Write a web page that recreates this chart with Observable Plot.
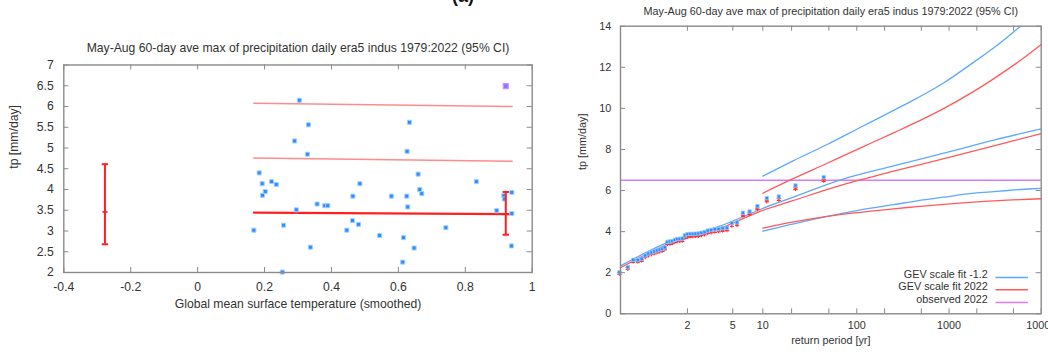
<!DOCTYPE html>
<html><head><meta charset="utf-8">
<script src="https://cdn.jsdelivr.net/npm/d3@7"></script>
<script src="https://cdn.jsdelivr.net/npm/@observablehq/plot@0.6"></script>
<style>
body{margin:0;background:#fff;}
#wrap{position:relative;width:1048px;height:354px;overflow:hidden;font-family:"Liberation Sans",Arial,sans-serif;color:#333;}
#wrap svg{position:absolute;top:0;}
.hd{position:absolute;white-space:nowrap;font-weight:bold;font-size:18px;line-height:18px;color:#111;}
</style></head><body><div id="wrap"><div class="hd" style="left:452px;top:-13px">(a)</div></div>
<script>
const FONT = '"Liberation Sans", Arial, sans-serif';
const GRAY = "#8a8a8a", TXT = "#333";

// ---------- Left panel: observations vs smoothed GMST ----------
const titleText = "May-Aug 60-day ave max of precipitation daily era5 indus 1979:2022 (95% CI)";
const gmst = [0.304,0.331,0.633,0.290,0.626,0.328,0.184,0.659,0.221,0.193,0.235,0.485,0.833,0.202,0.194,0.664,0.670,0.464,0.579,0.625,0.939,0.915,0.917,0.357,0.380,0.389,0.628,0.295,0.894,0.939,0.463,0.481,0.257,0.168,0.446,0.742,0.544,0.615,0.337,0.647,0.938,0.613,0.253];
const tpObs = [6.15,5.56,5.62,5.17,4.92,4.85,4.40,4.37,4.19,4.14,4.12,4.14,4.19,3.95,3.86,4.00,3.90,3.84,3.84,3.84,3.93,3.85,3.77,3.65,3.61,3.61,3.58,3.51,3.49,3.42,3.25,3.16,3.14,3.02,3.02,3.08,2.89,2.84,2.61,2.59,2.64,2.25,2.01];
const gmst2022 = [0.921], tp2022 = [6.49];
const fitX = [0.168, 0.94];
const fitMean = [3.445, 3.405];
const fitRet1 = [4.76, 4.68];
const fitRet2 = [6.08, 6.00];
const ciX = [-0.277, 0.921];
const ciLow = [2.68, 2.91];
const ciMid = [3.46, 3.41];
const ciHigh = [4.61, 3.94];
const xTicksL = [-0.4,-0.2,0,0.2,0.4,0.6,0.8,1];
const yTicksL = [2,2.5,3,3.5,4,4.5,5,5.5,6,6.5,7];

// ---------- Right panel: return period plot ----------
const rpObs = [1.023,1.048,1.073,1.1,1.128,1.158,1.189,1.222,1.257,1.294,1.333,1.375,1.419,1.467,1.517,1.571,1.63,1.692,1.76,1.833,1.913,2.0,2.095,2.2,2.316,2.444,2.588,2.75,2.933,3.143,3.385,3.667,4.0,4.4,4.889,5.5,6.286,7.333,8.8,11,14.67,22,44];
const tpBlue = [2.02,2.27,2.63,2.62,2.68,2.84,2.93,2.99,3.04,3.09,3.13,3.17,3.24,3.50,3.52,3.54,3.60,3.64,3.65,3.66,3.82,3.88,3.89,3.89,3.90,3.91,3.94,3.98,4.05,4.08,4.12,4.13,4.17,4.19,4.42,4.45,4.92,4.98,5.24,5.63,5.71,6.25,6.65];
const tpRed  = [1.97,2.21,2.56,2.56,2.61,2.77,2.86,2.92,2.96,3.01,3.05,3.09,3.16,3.41,3.43,3.45,3.51,3.55,3.56,3.57,3.72,3.78,3.79,3.79,3.80,3.81,3.84,3.88,3.95,3.98,4.02,4.03,4.07,4.09,4.31,4.34,4.80,4.86,5.11,5.49,5.57,6.09,6.49];
const rpFit = [1.0255,1.5,3.66,9.5,21,67,250,880,3060,10000];
const fitBlue = [2.33,3.50,4.24,5.09,5.68,6.52,7.20,7.82,8.46,9.00];
const fitRed  = [2.24,3.40,4.13,5.00,5.52,6.25,6.94,7.55,8.18,8.77];
const rpCI = [10,21,48,110,250,450,880,1855,3060,5960,10000];
const hiBlue = [6.70,7.46,8.24,9.08,9.90,10.50,11.25,12.25,12.95,14.0,14.88];
const hiRed  = [5.87,6.59,7.33,8.08,8.81,9.34,10.00,10.83,11.45,12.34,13.11];
const loBlue = [4.02,4.38,4.74,5.06,5.31,5.50,5.68,5.87,5.95,6.05,6.11];
const loRed  = [4.17,4.47,4.74,4.94,5.11,5.22,5.33,5.44,5.50,5.56,5.60];
const observed2022 = 6.5;
const rpTicks = [2,5,10,20,50,100,200,500,1000,2000,5000,10000];
const rpLabels = [2,5,10,100,1000,10000];
const yTicksR = [0,2,4,6,8,10,12,14];
const legendNames = ["GEV scale fit -1.2","GEV scale fit 2022","observed 2022"];

const BLUE_L = "#5fa8ff", RED_L = "#ff5a5a", PURPLE = "#d77cf7";
const gumbel = T => -Math.log(-Math.log(1 - 1/T));
const invGumbel = v => 1/(1 - Math.exp(-Math.exp(-v)));

// horizontal bar symbol for error-bar caps and legend swatches
const hbar = {draw(ctx, size){ const w = Math.sqrt(size/Math.PI); ctx.moveTo(-w,0); ctx.lineTo(w,0); }};

const wrap = document.getElementById("wrap");

// ===== Left plot =====
{
  const W=560,H=354,ml=63.3,mr=28.3,mt=64.5,mb=82;
  const fw=W-ml-mr, fh=H-mt-mb;
  const pts = gmst.map((x,i)=>({x, y: tpObs[i]}));
  const line = arr => fitX.map((x,i)=>({x, y: arr[i]}));
  const ci = ciX.map((x,i)=>({x, lo: ciLow[i], mid: ciMid[i], hi: ciHigh[i]}));
  const fs = 12.2;
  const svg = Plot.plot({
    width:W, height:H, marginLeft:ml, marginRight:mr, marginTop:mt, marginBottom:mb,
    style:{fontFamily:FONT, fontSize:fs+"px", color:TXT, background:"transparent", overflow:"visible"},
    x:{domain:[-0.4,1]}, y:{domain:[2,7]},
    marks:[
      Plot.line(line(fitRet2), {x:"x", y:"y", stroke:"#ff8c8c", strokeWidth:1.6}),
      Plot.line(line(fitRet1), {x:"x", y:"y", stroke:"#ff8c8c", strokeWidth:1.6}),
      Plot.line(line(fitMean), {x:"x", y:"y", stroke:"#ff2020", strokeWidth:2.2}),
      Plot.dot(pts, {x:"x", y:"y", symbol:"square", r:2.3, fill:"#2a8cff", stroke:"#a8d0ff", strokeWidth:1}),
      Plot.dot(gmst2022.map((x,i)=>({x, y: tp2022[i]})), {x:"x", y:"y", symbol:"square", r:2.8, fill:"#7d7dff", stroke:"#d28cff", strokeWidth:1.2}),
      Plot.ruleX(ci, {x:"x", y1:"lo", y2:"hi", stroke:"#ff2020", strokeWidth:2}),
      Plot.dot(ci, {x:"x", y:"lo", symbol:hbar, r:3.2, fill:"none", stroke:"#ff2020", strokeWidth:2}),
      Plot.dot(ci, {x:"x", y:"hi", symbol:hbar, r:3.2, fill:"none", stroke:"#ff2020", strokeWidth:2}),
      Plot.dot(ci, {x:"x", y:"mid", symbol:hbar, r:2.6, fill:"none", stroke:"#ff2020", strokeWidth:1.6}),
      Plot.tickX(xTicksL, {x:d=>d, insetTop:fh-5, stroke:GRAY}),
      Plot.tickX(xTicksL, {x:d=>d, insetBottom:fh-5, stroke:GRAY}),
      Plot.tickY(yTicksL, {y:d=>d, insetRight:fw-5, stroke:GRAY}),
      Plot.tickY(yTicksL, {y:d=>d, insetLeft:fw-5, stroke:GRAY}),
      Plot.frame({stroke:GRAY, strokeWidth:1.4}),
      Plot.axisX({ticks:xTicksL, tickSize:0, tickPadding:9.5, tickFormat:d=>String(d), label:null, fontSize:fs}),
      Plot.axisY({ticks:yTicksL, tickSize:0, tickPadding:10, tickFormat:d=>String(d), label:null, fontSize:fs}),
      Plot.text([titleText], {frameAnchor:"top", dy:-22, text:d=>d, fontSize:fs, fill:TXT}),
      Plot.text(["Global mean surface temperature (smoothed)"], {frameAnchor:"bottom", dy:35, text:d=>d, fontSize:fs, fill:TXT}),
      Plot.text(["tp [mm/day]"], {frameAnchor:"left", dx:-49.5, rotate:-90, text:d=>d, fontSize:fs, fill:TXT})
    ]
  });
  svg.style.left = "0px";
  wrap.appendChild(svg);
}

// ===== Right plot =====
{
  const W=488,H=354,ml=60,mr=7.3,mt=25.7,mb=40.7;
  const fw=W-ml-mr, fh=H-mt-mb;
  const fs = 10.8;
  const curve = (T, v) => T.map((t,i)=>({x: gumbel(t), y: v[i]}));
  const obsB = rpObs.map((t,i)=>({x: gumbel(t), y: tpBlue[i]}));
  const obsR = rpObs.map((t,i)=>({x: gumbel(t), y: tpRed[i]}));
  const legDy = [-36.3, -24, -11.3];
  const legCol = [BLUE_L, RED_L, PURPLE];
  const smooth = "catmull-rom";
  const svg = Plot.plot({
    width:W, height:H, marginLeft:ml, marginRight:mr, marginTop:mt, marginBottom:mb,
    style:{fontFamily:FONT, fontSize:fs+"px", color:TXT, background:"transparent", overflow:"visible"},
    x:{domain:[-1.307, gumbel(10000)]}, y:{domain:[0,14]},
    marks:[
      Plot.ruleY([observed2022], {stroke:PURPLE, strokeWidth:1.5}),
      Plot.line(curve(rpCI, hiBlue), {x:"x", y:"y", stroke:BLUE_L, strokeWidth:1.3, curve:smooth, clip:true}),
      Plot.line(curve(rpCI, loBlue), {x:"x", y:"y", stroke:BLUE_L, strokeWidth:1.3, curve:smooth}),
      Plot.line(curve(rpFit, fitBlue), {x:"x", y:"y", stroke:BLUE_L, strokeWidth:1.3, curve:smooth}),
      Plot.line(curve(rpCI, hiRed), {x:"x", y:"y", stroke:RED_L, strokeWidth:1.3, curve:smooth}),
      Plot.line(curve(rpCI, loRed), {x:"x", y:"y", stroke:RED_L, strokeWidth:1.3, curve:smooth}),
      Plot.line(curve(rpFit, fitRed), {x:"x", y:"y", stroke:RED_L, strokeWidth:1.3, curve:smooth}),
      Plot.dot(obsR, {x:"x", y:"y", symbol:"asterisk", r:2.2, stroke:"#ff3535", strokeWidth:1.2}),
      Plot.dot(obsB, {x:"x", y:"y", symbol:"square", r:1.9, fill:"#2a8cff", stroke:"#9ccaff", strokeWidth:0.8}),
      Plot.tickX(rpTicks.map(gumbel), {x:d=>d, insetTop:fh-5, stroke:GRAY}),
      Plot.tickX(rpTicks.map(gumbel), {x:d=>d, insetBottom:fh-5, stroke:GRAY}),
      Plot.tickY(yTicksR, {y:d=>d, insetRight:fw-5, stroke:GRAY}),
      Plot.tickY(yTicksR, {y:d=>d, insetLeft:fw-5, stroke:GRAY}),
      Plot.frame({stroke:GRAY, strokeWidth:1.4}),
      Plot.axisX({ticks:rpLabels.map(gumbel), tickSize:0, tickPadding:8, tickFormat:d=>String(Math.round(invGumbel(d))), label:null, fontSize:fs}),
      Plot.axisY({ticks:yTicksR, tickSize:0, tickPadding:9.3, tickFormat:d=>String(d), label:null, fontSize:fs}),
      ...legendNames.map((name,i)=>Plot.text([name], {frameAnchor:"bottom-right", dx:-53.4, dy:legDy[i], textAnchor:"end", text:d=>d, fontSize:fs, fill:TXT})),
      ...legendNames.map((name,i)=>Plot.dot([name], {frameAnchor:"bottom-right", dx:-29.5, dy:legDy[i], symbol:hbar, r:16.2, fill:"none", stroke:legCol[i], strokeWidth:1.4})),
      Plot.text([titleText], {frameAnchor:"top", dy:-19, text:d=>d, fontSize:fs, fill:TXT}),
      Plot.text(["return period [yr]"], {frameAnchor:"bottom", dy:30.5, text:d=>d, fontSize:fs, fill:TXT}),
      Plot.text(["tp [mm/day]"], {frameAnchor:"left", dx:-38, rotate:-90, text:d=>d, fontSize:fs, fill:TXT})
    ]
  });
  svg.style.left = "560px";
  wrap.appendChild(svg);
}
</script></body></html>
